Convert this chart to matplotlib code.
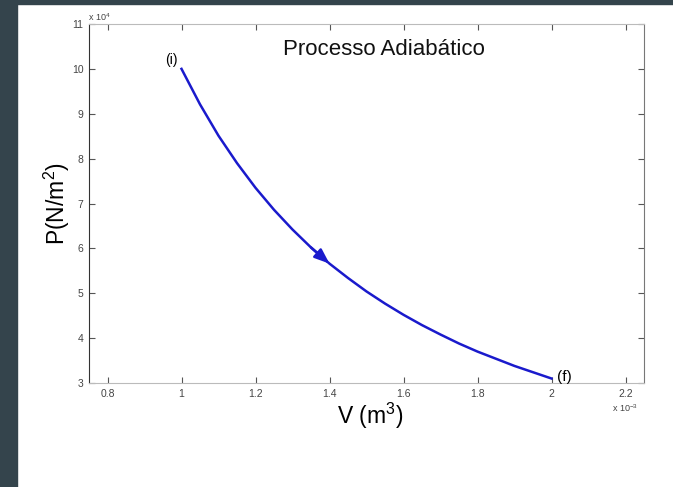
import matplotlib
matplotlib.use("Agg")
import matplotlib.pyplot as plt
from matplotlib.patches import Rectangle
from matplotlib.ticker import FuncFormatter

plt.rcParams["font.family"] = ["Liberation Sans", "DejaVu Sans"]
plt.rcParams["mathtext.fontset"] = "custom"
plt.rcParams["mathtext.rm"] = "Liberation Sans"
plt.rcParams["mathtext.it"] = "Liberation Sans:italic"

# volume (m^3) and pressure (N/m^2)
volume = [1.00e-3, 1.05e-3, 1.10e-3, 1.15e-3, 1.20e-3, 1.25e-3, 1.30e-3,
          1.35e-3, 1.40e-3, 1.45e-3, 1.50e-3, 1.55e-3, 1.60e-3, 1.65e-3,
          1.70e-3, 1.75e-3, 1.80e-3, 1.85e-3, 1.90e-3, 1.95e-3, 2.00e-3]
pressure = [10.00e4, 9.21e4, 8.51e4, 7.90e4, 7.35e4, 6.86e4, 6.42e4,
            6.02e4, 5.66e4, 5.34e4, 5.04e4, 4.77e4, 4.52e4, 4.29e4,
            4.08e4, 3.88e4, 3.70e4, 3.54e4, 3.38e4, 3.24e4, 3.10e4]

x_ticks = [0.8e-3, 1.0e-3, 1.2e-3, 1.4e-3, 1.6e-3, 1.8e-3, 2.0e-3, 2.2e-3]
y_ticks = [3e4, 4e4, 5e4, 6e4, 7e4, 8e4, 9e4, 10e4, 11e4]

blue = "#1a1acc"

fig = plt.figure(figsize=(6.73, 4.87), dpi=100)
# dark frame strips from the screenshot
fig.patches.append(Rectangle((0, 0), 17 / 673, 1, transform=fig.transFigure,
                             color="#34444c", zorder=0))
fig.patches.append(Rectangle((0, 1 - 4 / 487), 1, 4 / 487, transform=fig.transFigure,
                             color="#34444c", zorder=0))

ax = fig.add_axes([89 / 673, 104 / 487, 555 / 673, 359 / 487])
ax.plot(volume, pressure, color=blue, lw=1.8)

# direction arrow half way along
ax.annotate("", xy=(volume[8], pressure[8]), xytext=(volume[7], pressure[7]),
            arrowprops=dict(arrowstyle="-|>,head_length=0.9,head_width=0.35",
                            color=blue, lw=1.8, shrinkA=0, shrinkB=0))

ax.set_xlim(0.75e-3, 2.25e-3)
ax.set_ylim(3e4, 11e4)
ax.set_xticks(x_ticks)
ax.set_yticks(y_ticks)
ax.xaxis.set_major_formatter(FuncFormatter(lambda v, p: "%g" % round(v * 1e3, 2)))
ax.yaxis.set_major_formatter(FuncFormatter(lambda v, p: "%g" % round(v / 1e4, 2)))
ax.tick_params(direction="in", length=4, width=0.8, labelsize=7.5,
               top=True, right=True, colors="#555555", labelcolor="#444444", pad=4)

ax.spines["left"].set_color("#333333")
ax.spines["right"].set_color("#777777")
ax.spines["top"].set_color("#bbbbbb")
ax.spines["bottom"].set_color("#bbbbbb")

ax.text(0.531, 0.93, "Processo Adiabático", transform=ax.transAxes,
        ha="center", va="center", fontsize=16, color="#111111")
ax.annotate("(i)", xy=(volume[0], pressure[0]), xytext=(-7, 6.5),
            textcoords="offset points", ha="center", va="center", fontsize=10)
ax.annotate("(f)", xy=(volume[-1], pressure[-1]), xytext=(4, 1),
            textcoords="offset points", ha="left", va="center", fontsize=11)

ax.set_xlabel("V (m$^3$)", fontsize=16.5)
ax.xaxis.set_label_coords(0.506, -0.05)
ax.set_ylabel("P(N/m$^2$)", fontsize=16.5)
ax.yaxis.set_label_coords(-0.031, 0.50)

# MATLAB style exponent notes
fig.text(88 / 673, 1 - 17 / 487, "x 10$^4$", fontsize=6.5, color="#444444",
         ha="left", va="center")
fig.text(612 / 673, 1 - 408 / 487, "x 10$^{-3}$", fontsize=6.5, color="#444444",
         ha="left", va="center")

fig.savefig("out.png", dpi=100)
